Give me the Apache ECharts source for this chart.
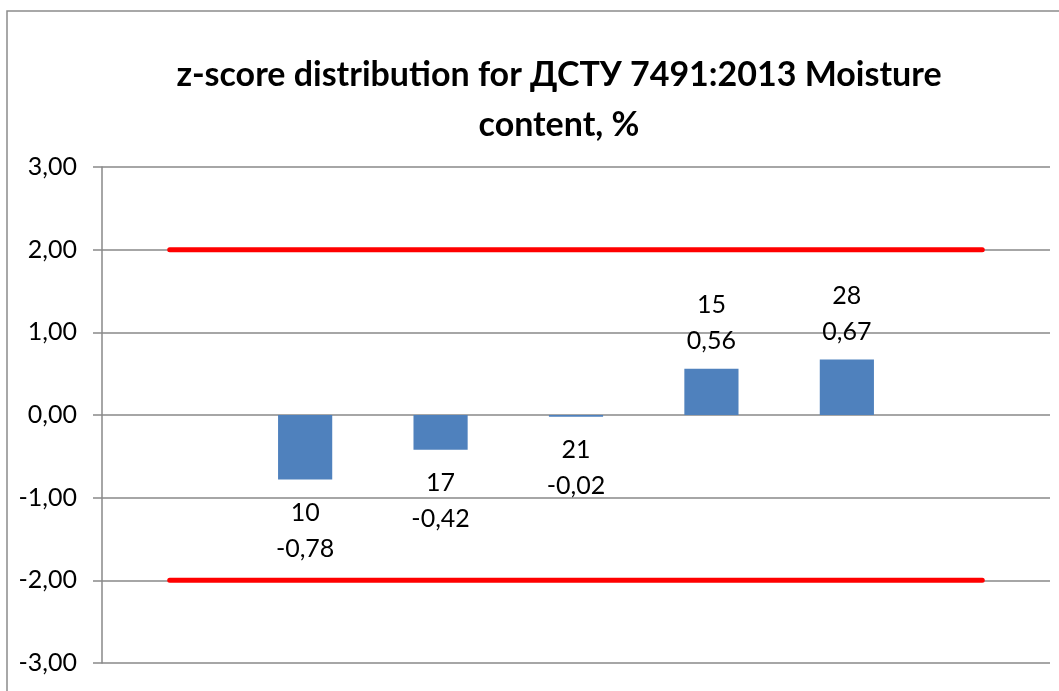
<!DOCTYPE html>
<html>
<head>
<meta charset="utf-8">
<script src="https://cdn.jsdelivr.net/npm/echarts@6/dist/echarts.min.js"></script>
<style>
  html, body { margin: 0; padding: 0; background: #fff; }
  #chart { width: 1059px; height: 691px; }
</style>
</head>
<body>
<div id="chart"></div>
<script>
// Participant codes (outer empty slots carry only the ±2 limit lines)
const categories = ['', '10', '17', '21', '15', '28', ''];
// z-scores per participant
const zScores = [null, -0.78, -0.42, -0.02, 0.56, 0.67, null];
// Action limits
const upperLimit = [2, 2, 2, 2, 2, 2, 2];
const lowerLimit = [-2, -2, -2, -2, -2, -2, -2];

const titleText = 'z-score distribution for ДСТУ 7491:2013 Moisture\ncontent, %';
const fontFamily = 'Lato, "Noto Sans", sans-serif';

const fmt = v => v.toFixed(2).replace('.', ',');

const chart = echarts.init(document.getElementById('chart'), null, { renderer: 'canvas' });

const barData = zScores.map(v => {
  if (v === null) return null;
  return {
    value: v,
    label: {
      position: v < 0 ? 'bottom' : 'top',
      distance: v < 0 ? 15 : 10
    }
  };
});

chart.setOption({
  animation: false,
  backgroundColor: '#fff',
  graphic: [
    {
      type: 'rect',
      shape: { x: 7, y: 11, width: 1120, height: 760 },
      style: { fill: 'none', stroke: '#8c8c8c', lineWidth: 1.5 },
      silent: true,
      z: -10
    },
    {
      type: 'text',
      x: 559,
      y: 100,
      style: {
        text: titleText,
        font: 'bold 34px ' + fontFamily,
        fill: '#000',
        align: 'center',
        verticalAlign: 'middle',
        lineHeight: 50
      },
      silent: true
    }
  ],
  grid: { left: 102, right: 9, top: 167, bottom: 28, containLabel: false },
  xAxis: {
    type: 'category',
    data: categories,
    axisLine: { show: false },
    axisTick: { show: false },
    axisLabel: { show: false },
    splitLine: { show: false }
  },
  yAxis: {
    type: 'value',
    min: -3,
    max: 3,
    interval: 1,
    axisLine: { show: true, lineStyle: { color: '#898989', width: 1.5 } },
    axisTick: { show: true, inside: false, length: 9, lineStyle: { color: '#898989', width: 1.5 } },
    axisLabel: {
      formatter: v => fmt(v),
      color: '#000',
      fontSize: 25,
      fontFamily: fontFamily,
      margin: 25
    },
    splitLine: { show: true, lineStyle: { color: '#898989', width: 1.5 } }
  },
  series: [
    {
      type: 'bar',
      data: barData,
      barWidth: '40%',
      itemStyle: { color: '#4F81BD' },
      label: {
        show: true,
        color: '#000',
        fontSize: 25,
        fontFamily: fontFamily,
        lineHeight: 36,
        formatter: p => p.name + '\n' + fmt(p.value)
      },
      z: 2
    },
    {
      type: 'line',
      data: upperLimit,
      symbol: 'none',
      lineStyle: { color: '#FF0000', width: 5, cap: 'round' },
      z: 3
    },
    {
      type: 'line',
      data: lowerLimit,
      symbol: 'none',
      lineStyle: { color: '#FF0000', width: 5, cap: 'round' },
      z: 3
    }
  ]
});
</script>
</body>
</html>
